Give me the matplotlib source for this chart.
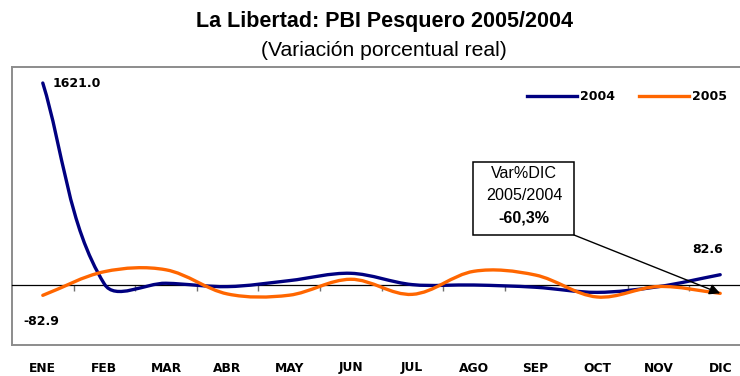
import numpy as np
import matplotlib
matplotlib.use("Agg")
import matplotlib.pyplot as plt
from matplotlib.path import Path
from matplotlib.patches import PathPatch, Rectangle
from matplotlib.lines import Line2D
import matplotlib.transforms as mtransforms

plt.rcParams['font.family'] = ['Liberation Sans', 'DejaVu Sans']
WIDE = ['DejaVu Sans', 'Liberation Sans']

# ---- data -------------------------------------------------------------
months = ["ENE", "FEB", "MAR", "ABR", "MAY", "JUN",
          "JUL", "AGO", "SEP", "OCT", "NOV", "DIC"]
var_2004 = [1621.0, 8, 14, -13, 35, 94, 3, 0, -18, -59, -13, 82.6]
var_2005 = [-82.9, 107, 122, -72, -82, 46, -75, 110, 80, -96, -12, -67]

series_names = ["2004", "2005"]
series_colors = ["#000080", "#FF6600"]

title = "La Libertad: PBI Pesquero 2005/2004"
subtitle = "(Variación porcentual real)"
note_lines = ["Var%DIC", "2005/2004", "-60,3%"]

# ---- figure -----------------------------------------------------------
W, H = 740, 376
fig = plt.figure(figsize=(W / 100, H / 100), dpi=100)
fig.patch.set_facecolor("white")

def fx(px):
    return px / W

def fy(py):
    return 1 - py / H

left, right, top, bottom = 12, 751, 67, 345
ax = fig.add_axes([fx(left), fy(bottom), fx(right - left), (bottom - top) / H])
ax.set_xlim(-0.5, len(months) - 0.5)
ax.set_ylim(-481.5, 1749.6)
ax.patch.set_alpha(0)

frame_col = "#8c8c8c"
for side in ("top", "left"):
    ax.spines[side].set_color(frame_col)
    ax.spines[side].set_linewidth(1.4)
ax.spines["right"].set_visible(False)
ax.add_line(Line2D([0, 1], [0, 0], transform=ax.transAxes, color=frame_col,
                   lw=1.4, clip_on=False))

# zero line carries the category tick marks
ax.spines["bottom"].set_position(("data", 0))
ax.spines["bottom"].set_color("black")
ax.spines["bottom"].set_linewidth(0.9)
ax.set_xticks(np.arange(len(months)))
ax.set_xticklabels([])
ax.tick_params(axis="x", which="major", length=0)
ax.set_xticks(np.arange(len(months) - 1) + 0.5, minor=True)
ax.tick_params(axis="x", which="minor", direction="out", length=4,
               width=1, color="#707070")
ax.set_yticks([])

# month labels under the frame
lab_tr = mtransforms.blended_transform_factory(ax.transData, fig.transFigure)
for i, m in enumerate(months):
    ax.text(i, fy(368), m, transform=lab_tr, ha="center", va="center",
            fontsize=8.8, fontweight="bold", color="black", family=WIDE)


def smooth_path(xs, ys):
    """Cubic Bezier through the points, tangents from neighbours,
    handle length one third of each segment (measured on screen)."""
    pts = ax.transData.transform(np.column_stack([xs, ys]))
    n = len(pts)
    tang = np.zeros_like(pts)
    for i in range(n):
        a = pts[max(i - 1, 0)]
        b = pts[min(i + 1, n - 1)]
        d = b - a
        tang[i] = d / np.hypot(*d)
    verts = [pts[0]]
    codes = [Path.MOVETO]
    for i in range(n - 1):
        seg = np.hypot(*(pts[i + 1] - pts[i])) / 3.0
        verts += [pts[i] + tang[i] * seg, pts[i + 1] - tang[i + 1] * seg, pts[i + 1]]
        codes += [Path.CURVE4] * 3
    verts = ax.transData.inverted().transform(np.array(verts))
    return Path(verts, codes)


x = np.arange(len(months))
for vals, col in zip([var_2004, var_2005], series_colors):
    ax.add_patch(PathPatch(smooth_path(x, vals), facecolor="none",
                           edgecolor=col, lw=2.4, capstyle="round",
                           joinstyle="round", zorder=3))

# value labels
lab_kw = dict(textcoords="offset points", ha="left", va="center",
              fontsize=9, fontweight="bold", family=WIDE)
ax.annotate(f"{var_2004[0]:.1f}", xy=(0, var_2004[0]), xytext=(7, 0), **lab_kw)
ax.annotate(f"{var_2005[0]:.1f}", xy=(0, var_2005[0]), xytext=(-14, -19), **lab_kw)
ax.annotate(f"{var_2004[-1]:.1f}", xy=(11, var_2004[-1]), xytext=(-20, 18), **lab_kw)

# legend
handles = [Line2D([], [], color=c, lw=2.4) for c in series_colors]
leg = ax.legend(handles, series_names, loc="center right",
                bbox_to_anchor=(fx(727), fy(97)), bbox_transform=fig.transFigure,
                ncol=2, frameon=False, handlelength=4.0, handletextpad=0.25,
                columnspacing=1.9, borderaxespad=0, borderpad=0,
                prop={"weight": "bold", "size": 9, "family": WIDE})

# note box with arrow to December 2005
bx0, by0, bx1, by1 = 473, 162, 574, 235
fig.add_artist(Rectangle((fx(bx0), fy(by1)), fx(bx1 - bx0), (by1 - by0) / H,
                         transform=fig.transFigure, facecolor="white",
                         edgecolor="black", lw=1.1, zorder=5))
for yy, txt, wt in zip([174, 196, 218], note_lines, ["normal", "normal", "bold"]):
    fig.text(fx(524), fy(yy), txt, ha="center", va="center", fontsize=11.6,
             fontweight=wt, zorder=6)
ax.annotate("", xy=(11, var_2005[-1]), xycoords="data",
            xytext=(bx1, H - by1), textcoords="figure pixels",
            arrowprops=dict(arrowstyle="-|>", color="black", lw=1.0,
                            mutation_scale=16, shrinkA=0, shrinkB=0),
            zorder=6)

# titles
fig.text(fx(384), fy(22), title, ha="center", va="center", fontsize=15.5,
         fontweight="bold")
fig.text(fx(384), fy(51), subtitle, ha="center", va="center", fontsize=15.2)

fig.savefig("out.png", dpi=100)
